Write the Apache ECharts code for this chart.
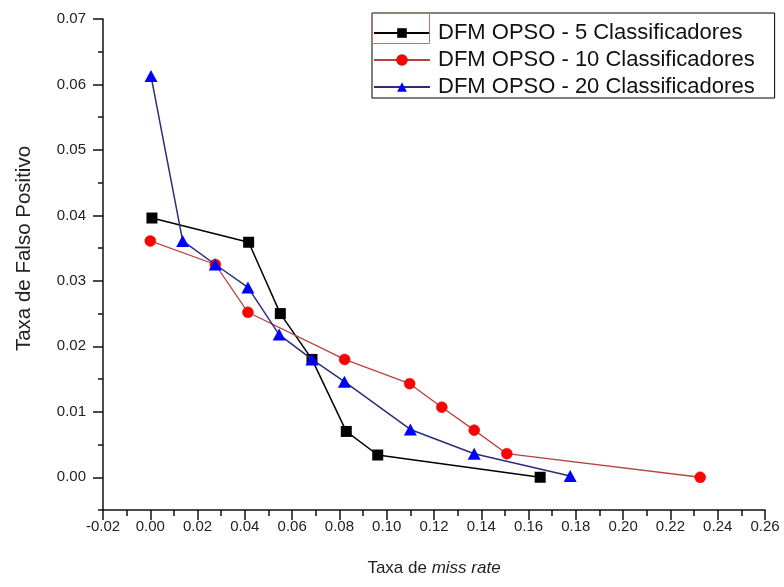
<!DOCTYPE html>
<html>
<head>
<meta charset="utf-8">
<script src="https://cdn.jsdelivr.net/npm/echarts@6/dist/echarts.min.js"></script>
<style>
html,body{margin:0;padding:0;background:#fff;}
#chart{width:784px;height:587px;}
</style>
</head>
<body>
<div id="chart"></div>
<script>
// ---- data ----
const seriesNames = ['DFM OPSO - 5 Classificadores', 'DFM OPSO - 10 Classificadores', 'DFM OPSO - 20 Classificadores'];

const c5X = [0.0007, 0.0416, 0.0550, 0.0684, 0.0829, 0.0962, 0.1649];
const c5Y = [0.0396, 0.0359, 0.0250, 0.0180, 0.0070, 0.0034, 0.0000];

const c10X = [0.0000, 0.0275, 0.0413, 0.0822, 0.1097, 0.1233, 0.1370, 0.1508, 0.2326];
const c10Y = [0.0361, 0.0325, 0.0252, 0.0180, 0.0143, 0.0107, 0.0072, 0.0036, 0.0000];

const c20X = [0.0003, 0.0137, 0.0275, 0.0413, 0.0545, 0.0684, 0.0821, 0.1100, 0.1370, 0.1776];
const c20Y = [0.0613, 0.0361, 0.0325, 0.0290, 0.0218, 0.0180, 0.0146, 0.0073, 0.0036, 0.0002];

const yTickValues = [0.00, 0.01, 0.02, 0.03, 0.04, 0.05, 0.06, 0.07];
const yMinorTickValues = [-0.005, 0.005, 0.015, 0.025, 0.035, 0.045, 0.055, 0.065];
const xMin = -0.02, xMax = 0.26, xStep = 0.02;
const yMin = -0.005, yMax = 0.07;

const xTitle = 'Taxa de ';
const xTitleItalic = 'miss rate';
const yTitle = 'Taxa de Falso Positivo';

function pairs(xs, ys) { return xs.map((x, i) => [x, ys[i]]); }

const FONT = 'Arial, "Liberation Sans", sans-serif';
const chart = echarts.init(document.getElementById('chart'), null, {renderer: 'canvas'});

const axisLineStyle = {color: '#111', width: 1.5};

chart.setOption({
  backgroundColor: '#fff',
  animation: false,
  grid: {left: 103, right: 19, top: 19, bottom: 77, containLabel: false},
  legend: {
    orient: 'vertical',
    left: 372, top: 13,
    padding: [9, 20, 0, 1],
    itemGap: 5,
    itemWidth: 56,
    itemHeight: 12,
    backgroundColor: '#fff',
    borderColor: '#000',
    borderWidth: 1,
    borderRadius: 0,
    textStyle: {fontFamily: FONT, fontSize: 22, color: '#111', lineHeight: 22, padding: [0, 0, 0, 3]},
    data: seriesNames
  },
  xAxis: {
    type: 'value',
    min: xMin, max: xMax, interval: xStep,
    name: '{a|' + xTitle + '}{b|' + xTitleItalic + '}',
    nameLocation: 'middle',
    nameGap: 50,
    nameTextStyle: {
      rich: {
        a: {fontFamily: FONT, fontSize: 17, color: '#222'},
        b: {fontFamily: FONT, fontSize: 17, color: '#222', fontStyle: 'italic'}
      }
    },
    axisLine: {show: true, onZero: false, lineStyle: axisLineStyle},
    axisTick: {show: true, inside: false, length: 10, lineStyle: axisLineStyle},
    minorTick: {show: true, splitNumber: 2, length: 6, lineStyle: axisLineStyle},
    axisLabel: {fontFamily: FONT, fontSize: 15, color: '#222', margin: 9,
      formatter: v => v.toFixed(2)},
    splitLine: {show: false},
    minorSplitLine: {show: false}
  },
  yAxis: [{
    type: 'value',
    min: yMin, max: yMax,
    name: yTitle,
    nameLocation: 'middle',
    nameGap: 68,
    nameTextStyle: {fontFamily: FONT, fontSize: 20.5, color: '#222', padding: [0, 0, 0, 32]},
    axisLine: {show: true, onZero: false, lineStyle: axisLineStyle},
    axisTick: {show: true, inside: false, length: 10, customValues: yTickValues, lineStyle: axisLineStyle},
    axisLabel: {fontFamily: FONT, fontSize: 15, color: '#222', margin: 17, customValues: yTickValues,
      formatter: v => v.toFixed(2)},
    splitLine: {show: false}
  }, {
    type: 'value',
    min: yMin, max: yMax,
    position: 'left',
    axisLine: {show: false, onZero: false},
    axisTick: {show: true, inside: false, length: 5, customValues: yMinorTickValues, lineStyle: axisLineStyle},
    axisLabel: {show: false},
    splitLine: {show: false}
  }],
  series: [{
    name: seriesNames[0], type: 'line', yAxisIndex: 0,
    data: pairs(c5X, c5Y),
    symbol: 'rect', symbolSize: 11,
    itemStyle: {color: '#000'},
    lineStyle: {color: '#000', width: 1.5},
    z: 2
  }, {
    name: seriesNames[1], type: 'line', yAxisIndex: 0,
    data: pairs(c10X, c10Y),
    symbol: 'circle', symbolSize: 11,
    itemStyle: {color: '#ff0000', borderColor: '#d81010', borderWidth: 0.5},
    lineStyle: {color: '#b8433e', width: 1.3},
    z: 3
  }, {
    name: seriesNames[2], type: 'line', yAxisIndex: 0,
    data: pairs(c20X, c20Y),
    symbol: 'triangle', symbolSize: [13, 12],
    itemStyle: {color: '#0000ff'},
    lineStyle: {color: '#2a2e78', width: 1.5},
    z: 4
  }],
  graphic: [{
    type: 'rect', z: 100,
    shape: {x: 372.5, y: 13.5, width: 57, height: 30},
    style: {fill: 'none', stroke: '#c07070', lineWidth: 1}
  }]
});
</script>
</body>
</html>
